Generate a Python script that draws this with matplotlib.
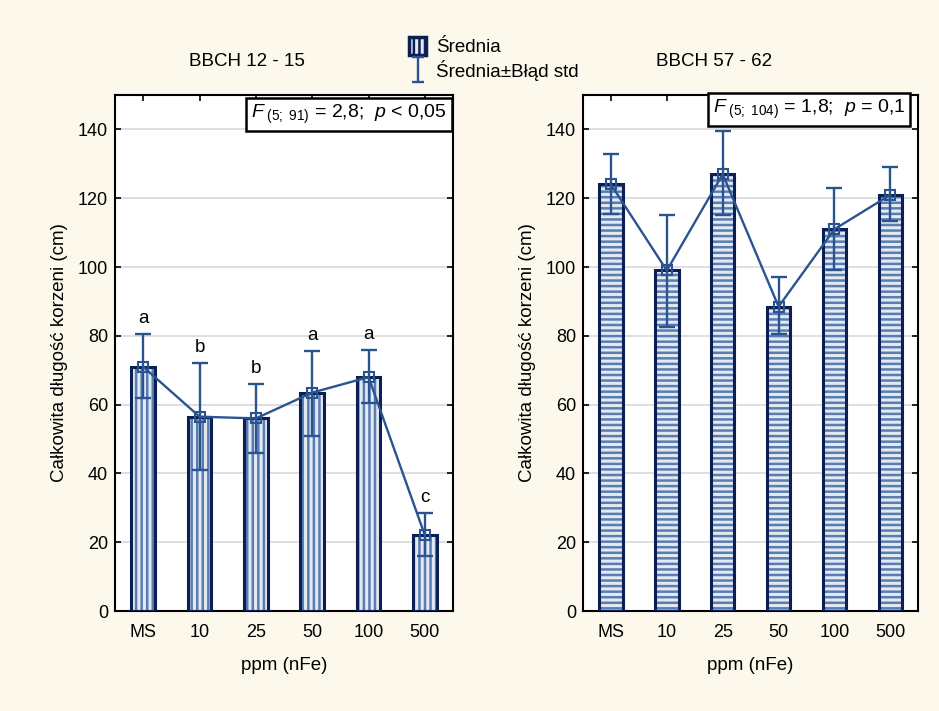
import numpy as np
import matplotlib
matplotlib.use("Agg")
import matplotlib.pyplot as plt
from matplotlib.patches import Patch
from matplotlib.lines import Line2D
from matplotlib.path import Path

plt.rcParams['font.family'] = ['Liberation Sans', 'DejaVu Sans']
plt.rcParams['mathtext.fontset'] = 'custom'
plt.rcParams['mathtext.rm'] = 'Liberation Sans'
plt.rcParams['mathtext.it'] = 'Liberation Sans:italic'
plt.rcParams['hatch.linewidth'] = 1.8

# data
categories = ['MS', '10', '25', '50', '100', '500']
left_mean = [71, 56.5, 56, 63.5, 68, 22]
left_upper = [80.5, 72, 66, 75.5, 76, 28.5]
left_lower = [62, 41, 46, 51, 60.5, 16]
left_letters = ['a', 'b', 'b', 'a', 'a', 'c']

right_mean = [124, 99, 127, 88.5, 111, 121]
right_upper = [133, 115, 139.5, 97, 123, 129]
right_lower = [115.5, 82.5, 115, 80.5, 99, 113.5]

titles = ['BBCH 12 - 15', 'BBCH 57 - 62']
stats = [r'$F_{\ (5;\ 91)}$ = 2,8;  $p$ < 0,05', r'$F_{\ (5;\ 104)}$ = 1,8;  $p$ = 0,1']
ylabel = 'Całkowita długość korzeni (cm)'
xlabel = 'ppm (nFe)'

bg = '#fdf8ec'
navy = '#0b1f55'
blue = '#2a5490'
stripe = '#5a7db0'
fill = '#e3e9f2'

fig = plt.figure(figsize=(9.39, 7.11), dpi=100, facecolor=bg)
ax1 = fig.add_axes([0.1225, 0.1406, 0.36, 0.7257])
ax2 = fig.add_axes([0.6209, 0.1406, 0.357, 0.7257])


def panel(ax, mean, upper, lower, hatch, title, stat, stat_x, stat_y):
    x = np.arange(len(categories))
    mean = np.array(mean)
    ax.set_facecolor('white')
    ax.bar(x, mean, width=0.42, color=fill, edgecolor=stripe, linewidth=0,
           hatch=hatch, zorder=2)
    ax.bar(x, mean, width=0.42, color='none', edgecolor=navy, linewidth=2.2,
           zorder=3)
    err = [mean - np.array(lower), np.array(upper) - mean]
    ax.errorbar(x, mean, yerr=err, fmt='none', ecolor=blue, elinewidth=1.7,
                capsize=6, capthick=1.7, zorder=4)
    ax.plot(x, mean, color=blue, lw=1.7, zorder=5)
    ax.plot(x, mean, linestyle='none', marker='s', ms=7, mfc='none',
            mec=blue, mew=1.5, zorder=5)
    ax.set_xlim(-0.5, 5.5)
    ax.set_ylim(0, 150)
    ax.set_yticks(range(0, 141, 20))
    ax.set_xticks(x)
    ax.set_xticklabels(categories)
    ax.grid(axis='y', color='#d9d9d9', lw=1.2, zorder=0)
    ax.set_axisbelow(True)
    ax.tick_params(direction='in', length=4, width=1.2, labelsize=13,
                   top=True, right=True)
    ax.tick_params(axis='x', pad=9)
    ax.tick_params(axis='y', pad=5)
    for s in ax.spines.values():
        s.set_linewidth(1.5)
        s.set_color('black')
    ax.set_ylabel(ylabel, fontsize=13.5, labelpad=7)
    ax.set_xlabel(xlabel, fontsize=13.5, labelpad=12)
    ax.text(0.39, 1.065, title, transform=ax.transAxes, ha='center',
            va='center', fontsize=13.5)
    ax.text(stat_x, stat_y, stat, transform=ax.transAxes, ha='right',
            va='top', fontsize=14,
            bbox=dict(boxstyle='square,pad=0.25', fc='white', ec='black',
                      lw=1.8), zorder=6)


panel(ax1, left_mean, left_upper, left_lower, '|||', titles[0], stats[0],
      0.982, 0.985)
panel(ax2, right_mean, right_upper, right_lower, '---', titles[1], stats[1],
      0.96, 0.995)

for i, (u, t) in enumerate(zip(left_upper, left_letters)):
    ax1.annotate(t, (i, u), xytext=(0, 5), textcoords='offset points',
                 ha='center', va='bottom', fontsize=13.5)

# legend
ibeam = Path([(-0.5, 1), (0.5, 1), (0, 1), (0, -1), (-0.5, -1), (0.5, -1)],
             [Path.MOVETO, Path.LINETO, Path.MOVETO, Path.LINETO,
              Path.MOVETO, Path.LINETO])
handles = [
    Patch(facecolor=fill, edgecolor=navy, hatch='|||', linewidth=2.5),
    Line2D([], [], linestyle='none', marker=ibeam, markersize=18,
           markeredgecolor=blue, markerfacecolor='none', markeredgewidth=1.7),
]
fig.legend(handles, ['Średnia', 'Średnia±Błąd std'], loc='upper left',
           bbox_to_anchor=(0.418, 0.972), frameon=False, fontsize=13.5,
           handlelength=0.9, handleheight=1.1, handletextpad=0.5,
           labelspacing=0.2)

fig.savefig('out.png', dpi=100, facecolor=bg)
